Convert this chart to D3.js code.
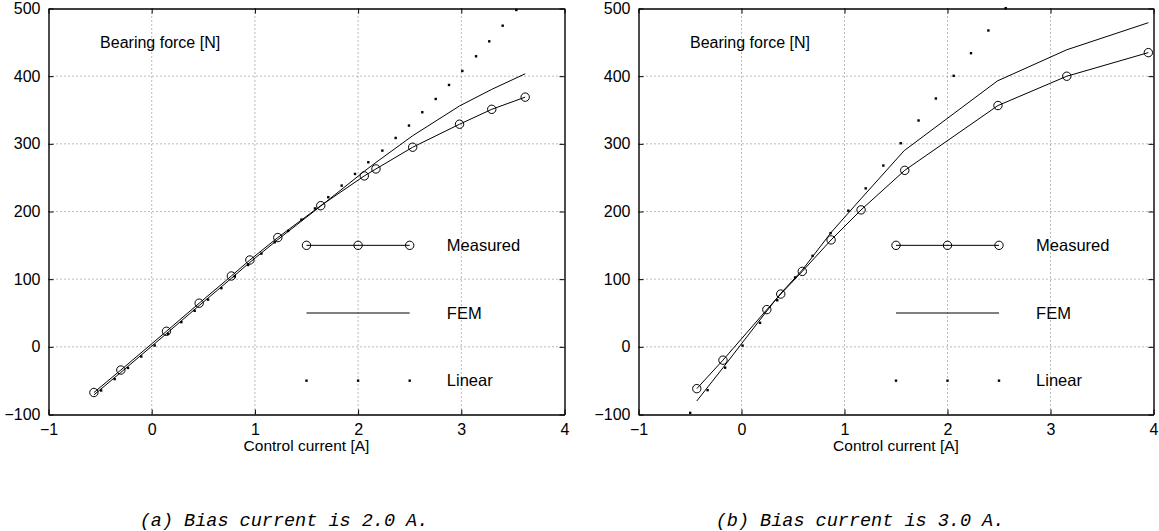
<!DOCTYPE html>
<html>
<head>
<meta charset="utf-8">
<script src="https://cdn.jsdelivr.net/npm/d3@7"></script>
<style>
  html, body { margin: 0; padding: 0; background: #fff; }
  svg { display: block; }
</style>
</head>
<body>
<svg id="chart" width="1159" height="531"></svg>
<script>
// ---------- data ----------
const xTicks = [-1, 0, 1, 2, 3, 4];
const yTicks = [-100, 0, 100, 200, 300, 400, 500];
const xDomain = [-1, 4];
const yDomain = [-100, 500];

// (a) bias current 2.0 A
const measuredA_x = [-0.560, -0.299, 0.143, 0.460, 0.772, 0.951, 1.222, 1.638, 2.060, 2.173, 2.529, 2.983, 3.295, 3.619];
const measuredA_y = [-67.5, -34.3, 23.0, 64.5, 104.7, 128.3, 161.5, 208.6, 252.6, 262.9, 295.0, 329.0, 351.0, 369.0];
const femA_x = [-0.560, -0.299, 0.143, 0.460, 0.772, 0.951, 1.222, 1.638, 2.060, 2.173, 2.529, 2.983, 3.295, 3.619];
const femA_y = [-71.0, -37.8, 19.5, 61.0, 101.2, 124.8, 158.5, 208.0, 259.5, 272.5, 312.0, 356.0, 380.5, 403.5];
const linearA_x = [-0.490, -0.359, -0.230, -0.101, 0.029, 0.158, 0.287, 0.416, 0.546, 0.675, 0.804, 0.934, 1.063, 1.192, 1.322, 1.451,
                   1.582, 1.711, 1.841, 1.970, 2.099, 2.235, 2.364, 2.493, 2.622, 2.752, 2.881, 3.010, 3.143, 3.271, 3.401, 3.533];
const linearA_y = [-64.5, -47.7, -31.2, -14.3, 2.0, 19.3, 36.5, 53.2, 69.8, 86.7, 104.0, 121.0, 137.8, 154.5, 171.3, 188.0,
                   204.5, 221.1, 238.3, 255.5, 272.8, 290.0, 308.7, 327.0, 346.7, 366.3, 387.0, 407.7, 429.4, 451.5, 474.6, 497.8];

// (b) bias current 3.0 A
const measuredB_x = [-0.434, -0.180, 0.246, 0.381, 0.590, 0.870, 1.161, 1.585, 2.490, 3.158, 3.950];
const measuredB_y = [-61.8, -19.7, 55.0, 78.0, 111.5, 158.0, 202.4, 260.8, 356.6, 399.9, 434.8];
const femB_x = [-0.434, -0.180, 0.246, 0.381, 0.590, 0.870, 1.161, 1.580, 2.485, 3.158, 3.950];
const femB_y = [-80.0, -31.0, 53.0, 79.0, 113.5, 169.0, 219.0, 290.0, 393.0, 439.0, 479.0];
const linearB_x = [-0.498, -0.329, -0.159, 0.010, 0.180, 0.347, 0.520, 0.690, 0.865, 1.037, 1.206, 1.377, 1.546, 1.719, 1.887, 2.060, 2.228, 2.397, 2.565];
const linearB_y = [-97.5, -64.0, -30.8, 1.8, 35.5, 68.8, 102.5, 134.5, 168.0, 201.2, 234.2, 267.9, 300.9, 334.5, 367.0, 400.5, 434.0, 467.5, 500.5];

// legend (drawn in data coordinates, as in the original figure)
const legendLabels = ["Measured", "FEM", "Linear"];
const legendY = [150, 50, -50];
const legendMarkX = [1.5, 2.0, 2.5];
const legendTextX = 2.86;

const yLabelText = "Bearing force [N]";
const yLabelPos = [-0.5, 450];
const xLabelText = "Control current [A]";
const captions = ["(a) Bias current is 2.0 A.", "(b) Bias current is 3.0 A."];

// ---------- layout ----------
const panels = [
  { left: 48.5, right: 564.5, caption: captions[0], capX: 284,
    mx: measuredA_x, my: measuredA_y, fx: femA_x, fy: femA_y, lx: linearA_x, ly: linearA_y },
  { left: 638.5, right: 1153.5, caption: captions[1], capX: 860,
    mx: measuredB_x, my: measuredB_y, fx: femB_x, fy: femB_y, lx: linearB_x, ly: linearB_y }
];
const plotTop = 8.5, plotBottom = 414.5;
const svg = d3.select("#chart");
const sans = "'Liberation Sans', Arial, Helvetica, sans-serif";

panels.forEach(p => {
  const x = d3.scaleLinear().domain(xDomain).range([p.left, p.right]);
  const y = d3.scaleLinear().domain(yDomain).range([plotBottom, plotTop]);
  const g = svg.append("g");

  // grid
  g.append("g").selectAll("line").data(xTicks.slice(1, -1)).join("line")
    .attr("x1", d => x(d)).attr("x2", d => x(d)).attr("y1", plotTop).attr("y2", plotBottom)
    .attr("stroke", "#777").attr("stroke-width", 1).attr("stroke-dasharray", "1,3");
  g.append("g").selectAll("line").data(yTicks.slice(1, -1)).join("line")
    .attr("y1", d => y(d)).attr("y2", d => y(d)).attr("x1", p.left).attr("x2", p.right)
    .attr("stroke", "#777").attr("stroke-width", 1).attr("stroke-dasharray", "1,3");

  // axes with inward ticks
  const fmt = d => d < 0 ? "\u2212" + Math.abs(d) : String(d);
  const axB = d3.axisBottom(x).tickValues(xTicks).tickSizeInner(-5).tickSizeOuter(0).tickPadding(9).tickFormat(fmt);
  const axT = d3.axisTop(x).tickValues(xTicks).tickSizeInner(-5).tickSizeOuter(0).tickFormat("");
  const axL = d3.axisLeft(y).tickValues(yTicks).tickSizeInner(-5).tickSizeOuter(0).tickPadding(8).tickFormat(fmt);
  const axR = d3.axisRight(y).tickValues(yTicks).tickSizeInner(-5).tickSizeOuter(0).tickFormat("");

  const styleAxis = sel => {
    sel.selectAll("path").attr("stroke", "#000").attr("stroke-width", 1.4);
    sel.selectAll("line").attr("stroke", "#000").attr("stroke-width", 1);
    sel.selectAll("text").attr("fill", "#000").style("font-family", sans).style("font-size", "16px");
  };
  g.append("g").attr("transform", `translate(0,${plotBottom})`).call(axB).call(styleAxis);
  g.append("g").attr("transform", `translate(0,${plotTop})`).call(axT).call(styleAxis);
  g.append("g").attr("transform", `translate(${p.left},0)`).call(axL).call(styleAxis);
  g.append("g").attr("transform", `translate(${p.right},0)`).call(axR).call(styleAxis);

  // FEM line
  const lineGen = d3.line().x(d => x(d[0])).y(d => y(d[1]));
  g.append("path").datum(d3.zip(p.fx, p.fy)).attr("d", lineGen)
    .attr("fill", "none").attr("stroke", "#000").attr("stroke-width", 1);
  // Measured line + circles
  const meas = d3.zip(p.mx, p.my);
  g.append("path").datum(meas).attr("d", lineGen)
    .attr("fill", "none").attr("stroke", "#000").attr("stroke-width", 1);
  g.append("g").selectAll("circle").data(meas).join("circle")
    .attr("cx", d => x(d[0])).attr("cy", d => y(d[1])).attr("r", 4.2)
    .attr("fill", "none").attr("stroke", "#000").attr("stroke-width", 1);
  // Linear dots
  g.append("g").selectAll("rect").data(d3.zip(p.lx, p.ly)).join("rect")
    .attr("x", d => x(d[0]) - 1.2).attr("y", d => y(d[1]) - 1.2)
    .attr("width", 2.4).attr("height", 2.4).attr("fill", "#000");

  // legend
  const lg = g.append("g");
  lg.append("line").attr("x1", x(legendMarkX[0])).attr("x2", x(legendMarkX[2]))
    .attr("y1", y(legendY[0])).attr("y2", y(legendY[0])).attr("stroke", "#000");
  lg.selectAll("circle").data(legendMarkX).join("circle")
    .attr("cx", d => x(d)).attr("cy", y(legendY[0])).attr("r", 4.2)
    .attr("fill", "none").attr("stroke", "#000");
  lg.append("line").attr("x1", x(legendMarkX[0])).attr("x2", x(legendMarkX[2]))
    .attr("y1", y(legendY[1])).attr("y2", y(legendY[1])).attr("stroke", "#000");
  lg.selectAll("rect").data(legendMarkX).join("rect")
    .attr("x", d => x(d) - 1.2).attr("y", y(legendY[2]) - 1.2)
    .attr("width", 2.4).attr("height", 2.4).attr("fill", "#000");
  lg.selectAll("text").data(legendLabels).join("text")
    .attr("x", x(legendTextX)).attr("y", (d, i) => y(legendY[i]))
    .attr("dy", "0.35em").style("font-family", sans).style("font-size", "16.5px")
    .text(d => d);

  // labels
  g.append("text").attr("x", x(yLabelPos[0])).attr("y", y(yLabelPos[1]))
    .attr("dy", "0.35em").style("font-family", sans).style("font-size", "16px").text(yLabelText);
  g.append("text").attr("x", (p.left + p.right) / 2).attr("y", 451)
    .attr("text-anchor", "middle").style("font-family", sans).style("font-size", "15.5px").text(xLabelText);

  // caption
  svg.append("text").attr("x", p.capX).attr("y", 526).attr("text-anchor", "middle")
    .style("font-family", "'Liberation Mono', 'DejaVu Sans Mono', monospace")
    .style("font-style", "italic").style("font-size", "18.5px").text(p.caption);
});
</script>
</body>
</html>
